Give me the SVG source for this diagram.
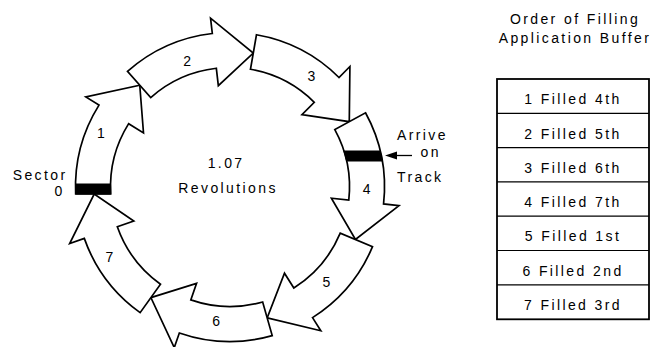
<svg xmlns="http://www.w3.org/2000/svg" width="651" height="347" viewBox="0 0 651 347">
<style>
  .arr { fill: #fff; stroke: #000; stroke-width: 1.7; stroke-linejoin: miter; stroke-miterlimit: 10; }
  .bar { fill: #000; stroke: #000; stroke-width: 1; }
  .t { font-family: "Liberation Sans", Arial, sans-serif; font-size: 14px; letter-spacing: 2.4px; fill: #000; }
  .n { font-family: "Liberation Sans", Arial, sans-serif; font-size: 14px; fill: #000; text-anchor: middle; }
  .m { text-anchor: middle; }
  .row { stroke: #000; stroke-width: 1.2; }
</style>
<rect width="651" height="347" fill="#fff"/>

<g id="arrow1">
  <path class="arr" d="M75.66,194 A154.5,154.5 0 0 1 98.98,105.13 L85.83,96.91 L139.76,85.25 L143.50,132.95 L128.66,123.67 A119.5,119.5 0 0 0 110.71,194 Z"/>
  <polygon class="bar" points="75.53,184 110.54,184 110.71,194 75.66,194"/>
  <text class="n" x="101" y="137.7">1</text>
</g>
<g id="arrow2">
  <path class="arr" d="M127.48,71.41 A154.5,154.5 0 0 1 212.32,33.51 L210.55,18.12 L253.29,53.01 L218.33,85.67 L216.33,68.28 A119.5,119.5 0 0 0 150.71,97.60 Z"/>
  <text class="n" x="187.2" y="65.7">2</text>
</g>
<g id="arrow3">
  <path class="arr" d="M256.46,34.78 A154.5,154.5 0 0 1 338.98,77.49 L349.91,66.50 L349.28,121.67 L301.95,114.70 L314.29,102.29 A119.5,119.5 0 0 0 250.46,69.27 Z"/>
  <text class="n" x="311.3" y="80.7">3</text>
</g>
<g id="arrow4">
  <path class="arr" d="M365.51,112.78 A154.5,154.5 0 0 1 383.57,203.93 L398.98,205.63 L355.46,239.51 L331.39,198.18 L348.78,200.09 A119.5,119.5 0 0 0 334.81,129.59 Z"/>
  <polygon class="bar" points="343.95,151 380.25,151 382.30,161 346.64,161"/>
  <text class="n" x="366.7" y="194.3">4</text>
</g>
<g id="arrow5">
  <path class="arr" d="M372.52,246.65 A154.5,154.5 0 0 1 312.53,317.61 L320.81,330.71 L267.17,317.82 L284.49,273.23 L293.84,288.02 A119.5,119.5 0 0 0 340.24,233.13 Z"/>
  <text class="n" x="326.5" y="287.3">5</text>
</g>
<g id="arrow6">
  <path class="arr" d="M272.22,335.62 A154.5,154.5 0 0 1 179.34,332.96 L174.26,347.60 L150.89,297.62 L196.56,283.36 L190.82,299.89 A119.5,119.5 0 0 0 262.66,301.95 Z"/>
  <text class="n" x="216.2" y="326">6</text>
</g>
<g id="arrow7">
  <path class="arr" d="M140.13,312.67 A154.5,154.5 0 0 1 84.30,238.39 L69.68,243.55 L94.19,194.12 L133.81,220.93 L117.31,226.75 A119.5,119.5 0 0 0 160.49,284.20 Z"/>
  <text class="n" x="109.5" y="262.3">7</text>
</g>

<g id="center-label">
  <text class="t" x="207.7" y="168.3">1.07</text>
  <text class="t" x="178.3" y="193.3">Revolutions</text>
</g>

<g id="sector-label">
  <text class="t" x="12.7" y="179.5">Sector</text>
  <text class="t" x="54.5" y="196">0</text>
</g>

<g id="connectors">
  <line x1="396" y1="155.5" x2="412" y2="155.5" stroke="#000" stroke-width="1.3"/>
  <polygon points="385,155.5 397,151.5 397,159.5" fill="#000"/>
</g>

<g id="arrive-label">
  <text class="t" x="397" y="140">Arrive</text>
  <text class="t" x="420.5" y="156.5">on</text>
  <text class="t" x="397" y="181.7">Track</text>
</g>

<g id="buffer-title">
  <text class="t m" x="575" y="24">Order of Filling</text>
  <text class="t m" x="575" y="42.5">Application Buffer</text>
</g>

<g id="buffer-table">
  <rect x="497" y="79" width="152" height="240.3" fill="#fff" stroke="#000" stroke-width="1.8"/>
  <line class="row" x1="497" y1="113.3" x2="649" y2="113.3"/>
  <line class="row" x1="497" y1="147.6" x2="649" y2="147.6"/>
  <line class="row" x1="497" y1="181.9" x2="649" y2="181.9"/>
  <line class="row" x1="497" y1="216.2" x2="649" y2="216.2"/>
  <line class="row" x1="497" y1="250.5" x2="649" y2="250.5"/>
  <line class="row" x1="497" y1="284.8" x2="649" y2="284.8"/>
  <text class="t m" x="573" y="104.3">1 Filled 4th</text>
  <text class="t m" x="573" y="138.6">2 Filled 5th</text>
  <text class="t m" x="573" y="172.9">3 Filled 6th</text>
  <text class="t m" x="573" y="207.1">4 Filled 7th</text>
  <text class="t m" x="573" y="241.4">5 Filled 1st</text>
  <text class="t m" x="573" y="275.7">6 Filled 2nd</text>
  <text class="t m" x="573" y="310">7 Filled 3rd</text>
</g>
</svg>
